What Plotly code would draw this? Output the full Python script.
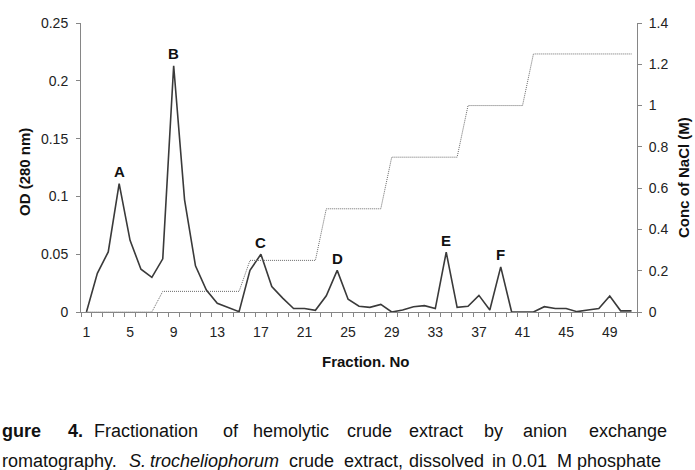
import plotly.graph_objects as go

# ---- data ----
fractions = list(range(1, 52))
od_280 = [0, 0.0335, 0.052, 0.111, 0.062, 0.037, 0.030, 0.046, 0.213, 0.097,
          0.040, 0.019, 0.0075, 0.004, 0.0003, 0.036, 0.050, 0.022, 0.012, 0.003,
          0.003, 0.0015, 0.014, 0.036, 0.011, 0.005, 0.004, 0.0066, 0.0, 0.0017,
          0.0046, 0.0055, 0.003, 0.0517, 0.004, 0.005, 0.0144, 0.0017, 0.039, 0.0,
          0.0, 0.0, 0.0046, 0.003, 0.003, 0.0003, 0.0017, 0.003, 0.0139, 0.001,
          0.001]
nacl_conc = ([0.0] * 7 + [0.1] * 8 + [0.25] * 7 + [0.5] * 6 + [0.75] * 7
             + [1.0] * 6 + [1.25] * 10)
peak_labels = ["A", "B", "C", "D", "E", "F"]
peak_fractions = [4, 9, 17, 24, 34, 39]
x_tick_vals = list(range(1, 52, 4))
x_tick_text = [str(v) for v in x_tick_vals]
y_left_ticks = [0, 0.05, 0.1, 0.15, 0.2, 0.25]
y_left_text = ["0", "0.05", "0.1", "0.15", "0.2", "0.25"]
y_right_ticks = [0, 0.2, 0.4, 0.6, 0.8, 1.0, 1.2, 1.4]
y_right_text = ["0", "0.2", "0.4", "0.6", "0.8", "1", "1.2", "1.4"]
x_title = "Fraction. No"
y_left_title = "OD (280 nm)"
y_right_title = "Conc of NaCl (M)"
caption_line1 = [("gure", True, False), ("4.", True, False), ("Fractionation", False, False),
                 ("of", False, False), ("hemolytic", False, False), ("crude", False, False),
                 ("extract", False, False), ("by", False, False), ("anion", False, False),
                 ("exchange", False, False)]
caption_line2 = [("romatography.", False, False), ("S.", False, True),
                 ("trocheliophorum", False, True), ("crude", False, False),
                 ("extract,", False, False), ("dissolved", False, False), ("in", False, False),
                 ("0.01", False, False), ("M", False, False), ("phosphate", False, False)]
line1_x = [0, 66, 92, 221, 251, 345, 407, 482, 521, 587]
line2_x = [0, 127, 148, 287, 342, 407, 490, 510, 555, 575]

FONT = "Arial, Liberation Sans, sans-serif"
W, H = 695, 470
L, R, T, B = 81, 637, 23, 312
AX = "#868686"

def px(xp):
    return (xp - L) / (R - L)

def py(yp):
    return (B - yp) / (B - T)

fig = go.Figure()
fig.add_trace(go.Scatter(x=fractions, y=nacl_conc, yaxis="y2", mode="lines",
                         line=dict(color="#6a6a6a", width=1, dash="1px,1px"),
                         name="NaCl", showlegend=False))
fig.add_trace(go.Scatter(x=fractions, y=od_280, mode="lines",
                         line=dict(color="#3a3a3a", width=1.6),
                         name="OD", showlegend=False))

ann = []
for lab, fr in zip(peak_labels, peak_fractions):
    ann.append(dict(x=fr, y=od_280[fr - 1], xref="x", yref="y", text=lab,
                    showarrow=False, yanchor="middle", yshift=12,
                    font=dict(family=FONT, size=15, color="#111111", weight="bold")))

ann.append(dict(x=px(366), y=py(361), xref="paper", yref="paper", text=x_title,
                showarrow=False, xanchor="center", yanchor="middle",
                font=dict(family=FONT, size=15, color="#111111", weight="bold")))
ann.append(dict(x=px(24), y=py(172), xref="paper", yref="paper", text=y_left_title,
                showarrow=False, textangle=-90, xanchor="center", yanchor="middle",
                font=dict(family=FONT, size=15, color="#111111", weight="bold")))
ann.append(dict(x=px(683), y=py(178), xref="paper", yref="paper", text=y_right_title,
                showarrow=False, textangle=-90, xanchor="center", yanchor="middle",
                font=dict(family=FONT, size=15, color="#111111", weight="bold")))

for words, xs, ycen in ((caption_line1, line1_x, 431), (caption_line2, line2_x, 461)):
    for (w, bold, ital), xw in zip(words, xs):
        ann.append(dict(x=px(xw), y=py(ycen), xref="paper", yref="paper", text=w,
                        showarrow=False, xanchor="left", yanchor="middle",
                        font=dict(family=FONT, size=18, color="#111111",
                                  weight="bold" if bold else "normal",
                                  style="italic" if ital else "normal")))

fig.update_layout(
    width=W, height=H,
    margin=dict(l=L, r=W - R, t=T, b=H - B, pad=0),
    paper_bgcolor="white", plot_bgcolor="white",
    font=dict(family=FONT, size=14, color="#222222"),
    xaxis=dict(range=[0.5, 51.5], tickmode="array", tickvals=x_tick_vals,
               ticktext=x_tick_text, ticks="outside", ticklen=7,
               tickcolor="rgba(0,0,0,0)", showline=True, linecolor=AX, linewidth=1,
               showgrid=False, zeroline=False,
               minor=dict(tickmode="linear", tick0=0.5, dtick=1, ticks="outside",
                          ticklen=4, tickcolor=AX, tickwidth=1, showgrid=False),
               tickfont=dict(size=14, color="#222222")),
    yaxis=dict(range=[0, 0.25], tickmode="array", tickvals=y_left_ticks,
               ticktext=y_left_text, ticks="outside", ticklen=4, tickcolor=AX,
               showline=True, linecolor=AX, linewidth=1, showgrid=False,
               zeroline=False, ticklabelstandoff=5,
               tickfont=dict(size=14, color="#222222")),
    yaxis2=dict(range=[0, 1.4], tickmode="array", tickvals=y_right_ticks,
                ticktext=y_right_text, overlaying="y", side="right",
                ticks="outside", ticklen=4, tickcolor=AX, showline=True,
                linecolor=AX, linewidth=1, showgrid=False, zeroline=False,
                ticklabelstandoff=4, tickfont=dict(size=14, color="#222222")),
    annotations=ann,
)

fig.write_html("out.html")
